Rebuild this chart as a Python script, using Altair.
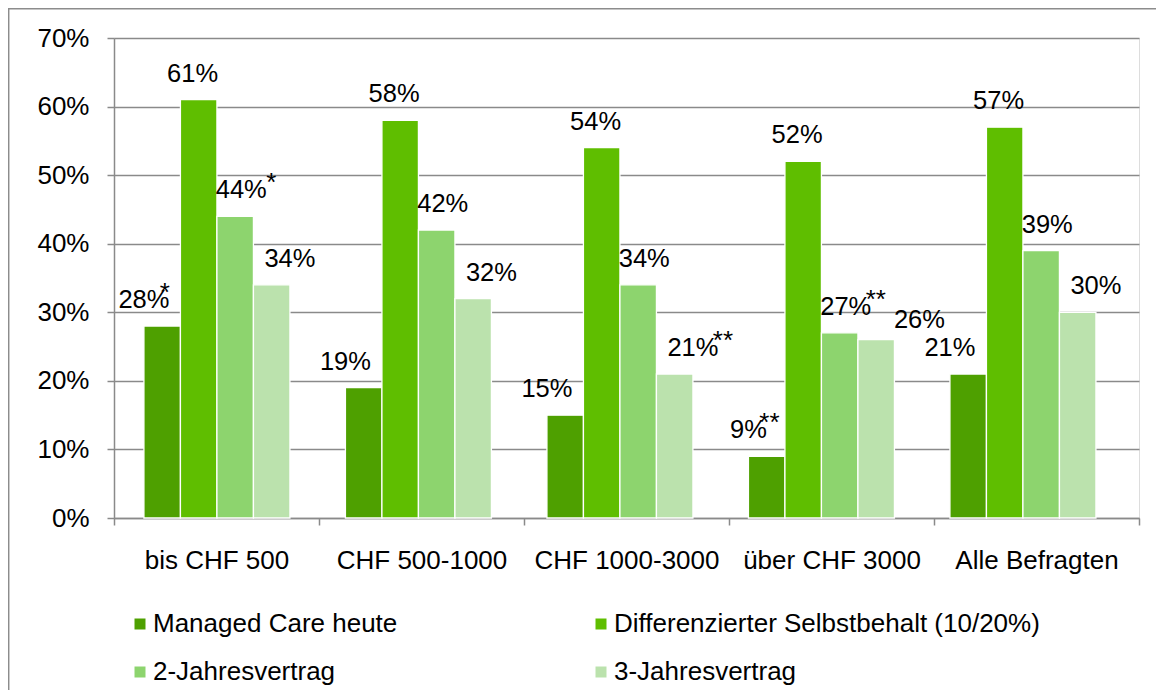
import altair as alt
import pandas as pd

categories = ["bis CHF 500", "CHF 500-1000", "CHF 1000-3000", "über CHF 3000", "Alle Befragten"]
series = ["Managed Care heute", "Differenzierter Selbstbehalt (10/20%)", "2-Jahresvertrag", "3-Jahresvertrag"]
colors = ["#4EA000", "#5FBE00", "#8DD46E", "#BBE2AD"]

managed_care = [28, 19, 15, 9, 21]
differenziert = [61, 58, 54, 52, 57]
zwei_jahre = [44, 42, 34, 27, 39]
drei_jahre = [34, 32, 21, 26, 30]

stars_managed = ["*", "", "", "**", ""]
stars_diff = ["", "", "", "", ""]
stars_zwei = ["*", "", "", "**", ""]
stars_drei = ["", "", "**", "", ""]

values = [managed_care, differenziert, zwei_jahre, drei_jahre]
stars = [stars_managed, stars_diff, stars_zwei, stars_drei]

rows = []
for s, vals, st in zip(series, values, stars):
    for c, v, a in zip(categories, vals, st):
        rows.append({"cat": c, "series": s, "value": v, "label": f"{v}%", "star": a})
df = pd.DataFrame(rows)

FONT = "Liberation Sans"
W, H = 1025, 480
GRAY = "#8a8a8a"

# legend is filled column by column: order the colour domain so rows read as in the original
legend_order = [series[0], series[2], series[1], series[3]]
legend_colors = [colors[0], colors[2], colors[1], colors[3]]

# axis scale: uniform category bands
axis_scale = alt.Scale(domain=categories, paddingInner=0, paddingOuter=0)
# bar scale: groups sit slightly tighter than the category bands, as in the original
bar_scale = alt.Scale(domain=categories, paddingInner=0.2754, paddingOuter=0.1811, align=0.41)
off_scale = alt.Scale(domain=series, paddingInner=0, paddingOuter=0)

y_enc = alt.Y("value:Q", scale=alt.Scale(domain=[0, 70], nice=False),
              axis=alt.Axis(title=None, values=list(range(0, 71, 10)),
                            labelExpr="datum.value + '%'", tickSize=7, labelPadding=18,
                            labelFontSize=26, labelFont=FONT, labelColor="black",
                            domainColor=GRAY, domainWidth=1.5, tickColor=GRAY,
                            tickWidth=1.5, gridColor=GRAY, gridWidth=1.4))

base = alt.Chart(df)

axis_layer = base.mark_tick(opacity=0).encode(
    x=alt.X("cat:N", sort=categories, scale=axis_scale,
            axis=alt.Axis(title=None, labelAngle=0, tickBand="extent", tickSize=7,
                          labelPadding=22, labelFontSize=26, labelFont=FONT, labelLimit=0,
                          labelColor="black", domainColor=GRAY, domainWidth=1.5,
                          tickColor=GRAY, tickWidth=1.5, grid=False)),
    y=y_enc,
)

x_bar = alt.X("cat:N", sort=categories, scale=bar_scale, axis=None)
xo_bar = alt.XOffset("series:N", sort=series, scale=off_scale)

bars = base.mark_bar(stroke="white", strokeWidth=1.3).encode(
    x=x_bar, xOffset=xo_bar, y=alt.Y("value:Q"),
    color=alt.Color("series:N",
                    scale=alt.Scale(domain=legend_order, range=legend_colors),
                    legend=alt.Legend(title=None, orient="none", legendX=13, legendY=573,
                                      columns=2, columnPadding=190, rowPadding=22,
                                      symbolType="square", symbolSize=121,
                                      symbolStrokeWidth=0, labelFontSize=26,
                                      labelFont=FONT, labelColor="black", labelOffset=0,
                                      labelLimit=600)),
)


def text_layer(field, size, dx, dy, filt):
    return base.mark_text(fontSize=size, font=FONT, color="black", dx=dx, dy=dy,
                          baseline="alphabetic", align="center").encode(
        x=x_bar, xOffset=xo_bar, y="value:Q", text=f"{field}:N").transform_filter(filt)


sel_26 = "datum.cat == 'über CHF 3000' && datum.series == '3-Jahresvertrag'"
sel_near = "(datum.cat == 'bis CHF 500' && datum.series == 'Managed Care heute') || datum.value < 10"

labels = text_layer("label", 25.5, 0, -18, f"!({sel_26})")
label_26 = text_layer("label", 25.5, 25, -12, sel_26)
stars_far = text_layer("star", 26, 30, -25, f"datum.star != '' && !({sel_near})")
stars_near = text_layer("star", 26, 21, -25, f"datum.star != '' && ({sel_near})")

frame = alt.Chart(alt.Data(values=[{}])).mark_rect(
    fill="white", fillOpacity=0, stroke="#8c8c8c", strokeWidth=1.5).encode(
    x=alt.value(-105.3), x2=alt.value(1100), y=alt.value(-29.3), y2=alt.value(800))

chart = alt.layer(frame, axis_layer, bars, labels, label_26,
                  stars_far, stars_near).resolve_scale(
    x="independent", xOffset="independent"
).properties(
    width=W, height=H,
    autosize=alt.AutoSizeParams(type="none"),
    padding={"left": 106, "top": 30, "right": 17, "bottom": 172},
).configure_view(stroke=None).configure(background="white")

chart.save("out.html", embed_options={"renderer": "svg", "actions": False})
